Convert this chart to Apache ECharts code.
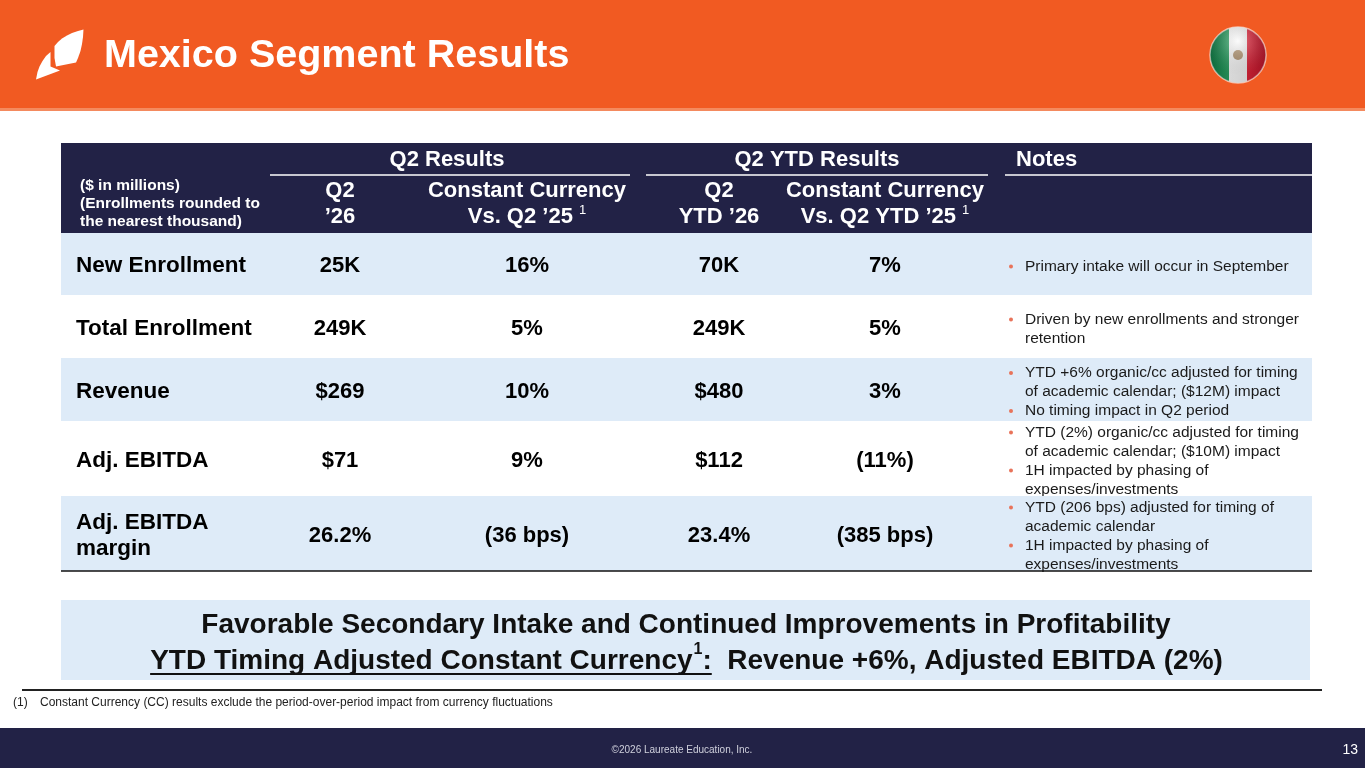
<!DOCTYPE html>
<html>
<head>
<meta charset="utf-8">
<title>Mexico Segment Results</title>
<script src="https://cdn.jsdelivr.net/npm/echarts@6/dist/echarts.min.js"></script>
<style>
    html, body { margin: 0; padding: 0; background: #fff; }
    #main { width: 1365px; height: 768px; }
</style>
</head>
<body>
<div id="main"></div>
<script>
// table content
var rowLabels = ['New Enrollment', 'Total Enrollment', 'Revenue', 'Adj. EBITDA', 'Adj. EBITDA\nmargin'];
var q2Values = ['25K', '249K', '$269', '$71', '26.2%'];
var q2CcGrowth = ['16%', '5%', '10%', '9%', '(36 bps)'];
var ytdValues = ['70K', '249K', '$480', '$112', '23.4%'];
var ytdCcGrowth = ['7%', '5%', '3%', '(11%)', '(385 bps)'];
var rowNotes = [
    [['Primary intake will occur in September']],
    [['Driven by new enrollments and stronger', 'retention']],
    [['YTD +6% organic/cc adjusted for timing', 'of academic calendar; ($12M) impact'], ['No timing impact in Q2 period']],
    [['YTD (2%) organic/cc adjusted for timing', 'of academic calendar; ($10M) impact'], ['1H impacted by phasing of', 'expenses/investments']],
    [['YTD (206 bps) adjusted for timing of', 'academic calendar'], ['1H impacted by phasing of', 'expenses/investments']]
];
var groupHeaders = ['Q2 Results', 'Q2 YTD Results', 'Notes'];
var colHeaders = [['Q2', '\u201926'], ['Constant Currency', 'Vs. Q2 \u201925'], ['Q2', 'YTD \u201926'], ['Constant Currency', 'Vs. Q2 YTD \u201925']];
var colFootnote = [false, true, false, true];
var unitNote = '($ in millions)\n(Enrollments rounded to\nthe nearest thousand)';
var boxLine1 = 'Favorable Secondary Intake and Continued Improvements in Profitability';
var boxLine2a = 'YTD Timing Adjusted Constant Currency';
var boxLine2b = ':';
var boxLine2c = '  Revenue +6%, Adjusted EBITDA (2%)';
var footnote = 'Constant Currency (CC) results exclude the period-over-period impact from currency fluctuations';

// layout
var FONT = '"Liberation Sans", Arial, Helvetica, sans-serif';
var NAVY = '#222246';
var ORANGE = '#F15A22';
var LIGHT = '#DEEBF8';
var tableLeft = 61, tableRight = 1312;
var headTop = 143, headBottom = 233;
var rowHeights = [62, 63, 63, 75, 75];
var colCenters = [340, 527, 719, 885];
var groupCenters = [447, 817, 1016];
var groupLines = [[270, 630], [646, 988], [1005, 1312]];
var noteX = 1025, bulletX = 1009;

var measureCtx = document.createElement('canvas').getContext('2d');
function textWidth(str, font) {
    measureCtx.font = font;
    return measureCtx.measureText(str).width;
}

function text(x, y, str, size, opts) {
    opts = opts || {};
    return {
        type: 'text',
        x: x,
        y: y,
        silent: true,
        style: {
            text: str,
            fill: opts.color || '#000',
            fontFamily: FONT,
            fontSize: size,
            fontWeight: opts.bold ? 'bold' : 'normal',
            textAlign: opts.align || 'center',
            textVerticalAlign: opts.valign || 'middle',
            lineHeight: opts.lineHeight
        }
    };
}

function line(x1, y1, x2, y2, color, w) {
    return { type: 'line', silent: true, shape: { x1: x1, y1: y1, x2: x2, y2: y2 }, style: { stroke: color, lineWidth: w } };
}

var g = [];

// title bar
g.push({ type: 'rect', shape: { x: 0, y: 0, width: 1365, height: 110 }, style: { fill: ORANGE } });
g.push({ type: 'rect', shape: { x: 0, y: 108, width: 1365, height: 3 }, style: { fill: '#F48A5E' } });
g.push({
    type: 'polygon',
    shape: { points: [[54.5, 46], [58, 42], [62, 38.5], [67, 35.5], [72, 33], [78, 31], [83.5, 29.5], [83, 37], [82, 44], [80.5, 51], [78, 58], [76, 62.5], [66, 64.5], [56, 66.5], [54.5, 58]] },
    style: { fill: '#fff' }
});
g.push({
    type: 'polygon',
    shape: { points: [[50.5, 52], [46, 56], [42.5, 61], [39.5, 66.5], [37.5, 72], [36, 79.5], [48, 75], [60, 70.5], [50.5, 66.5]] },
    style: { fill: '#fff' }
});
g.push(text(104, 56, 'Mexico Segment Results', 39.5, { bold: true, color: '#fff', align: 'left' }));

// flag
g.push({
    type: 'circle', shape: { cx: 1238, cy: 55, r: 28 },
    style: {
        fill: new echarts.graphic.LinearGradient(0, 0, 1, 0, [
            { offset: 0, color: '#0E7A45' }, { offset: 0.34, color: '#2BA263' },
            { offset: 0.34, color: '#ffffff' }, { offset: 0.66, color: '#f4f4f4' },
            { offset: 0.66, color: '#E0253A' }, { offset: 1, color: '#B8142A' }
        ]),
        stroke: 'rgba(255,255,255,0.6)', lineWidth: 1.5
    }
});
g.push({ type: 'circle', shape: { cx: 1238, cy: 55, r: 5 }, style: { fill: '#A07A4E', opacity: 0.8 } });
g.push({
    type: 'circle', shape: { cx: 1238, cy: 55, r: 28 },
    style: {
        fill: new echarts.graphic.RadialGradient(0.5, 0.25, 0.6, [
            { offset: 0, color: 'rgba(255,255,255,0.35)' }, { offset: 1, color: 'rgba(0,0,0,0.15)' }
        ])
    }
});

// table header
g.push({ type: 'rect', shape: { x: tableLeft, y: headTop, width: tableRight - tableLeft, height: headBottom - headTop }, style: { fill: NAVY } });
g.push(text(80, 204, unitNote, 15.5, { bold: true, color: '#fff', align: 'left', lineHeight: 18 }));
for (var i = 0; i < groupHeaders.length; i++) {
    g.push(text(groupCenters[i], 160, groupHeaders[i], 22, { bold: true, color: '#fff', align: i == 2 ? 'left' : 'center' }));
    g.push(line(groupLines[i][0], 175, groupLines[i][1], 175, '#fff', 1.5));
}
for (var i = 0; i < colHeaders.length; i++) {
    var rich = '{h|' + colHeaders[i][0] + '}\n{h|' + colHeaders[i][1] + (colFootnote[i] ? ' ' : '') + '}' + (colFootnote[i] ? '{s|1}' : '');
    g.push({
        type: 'text', x: colCenters[i], y: 204, silent: true,
        style: {
            text: rich, fill: '#fff', textAlign: 'center', textVerticalAlign: 'middle',
            rich: {
                h: { fontFamily: FONT, fontSize: 22, fontWeight: 'bold', color: '#fff', lineHeight: 26 },
                s: { fontFamily: FONT, fontSize: 13, color: '#fff', lineHeight: 26, verticalAlign: 'top', padding: [0, 0, 8, 0] }
            }
        }
    });
}

// table rows
var y = headBottom;
for (var r = 0; r < rowLabels.length; r++) {
    var h = rowHeights[r];
    var cy = y + h / 2 + 2;
    if (r % 2 == 0) {
        g.push({ type: 'rect', shape: { x: tableLeft, y: y, width: tableRight - tableLeft, height: h }, style: { fill: LIGHT } });
    }
    g.push(text(76, cy, rowLabels[r], 22.5, { bold: true, align: 'left', lineHeight: 26 }));
    var vals = [q2Values[r], q2CcGrowth[r], ytdValues[r], ytdCcGrowth[r]];
    for (var c = 0; c < vals.length; c++) {
        g.push(text(colCenters[c], cy, vals[c], 22, { bold: true }));
    }
    // notes, one bullet per item
    var nLines = 0;
    rowNotes[r].forEach(function (n) { nLines += n.length; });
    var lh = 19;
    var ly = cy + 0.5 - (nLines - 1) * lh / 2;
    rowNotes[r].forEach(function (n) {
        g.push({ type: 'circle', shape: { cx: bulletX + 2, cy: ly, r: 2 }, style: { fill: '#E8735A' } });
        n.forEach(function (s) {
            g.push(text(noteX, ly, s, 15.5, { align: 'left', color: '#1a1a1a' }));
            ly += lh;
        });
    });
    y += h;
}
g.push(line(tableLeft, y, tableRight, y, '#111', 1.5));

// takeaway box
g.push({ type: 'rect', shape: { x: 61, y: 600, width: 1249, height: 80 }, style: { fill: LIGHT } });
g.push(text(686, 625, boxLine1, 28, { bold: true, color: '#111' }));
var bf = 'bold 28px ' + FONT;
var sf = 'bold 16px ' + FONT;
var wA = textWidth(boxLine2a, bf), wS = textWidth('1', sf), wB = textWidth(boxLine2b, bf), wC = textWidth(boxLine2c, bf);
var x0 = 686 - (wA + wS + wB + wC) / 2;
g.push(text(x0, 661, boxLine2a, 28, { bold: true, color: '#111', align: 'left' }));
g.push(text(x0 + wA + 1, 650, '1', 16, { bold: true, color: '#111', align: 'left' }));
g.push(text(x0 + wA + wS + 1, 661, boxLine2b + boxLine2c, 28, { bold: true, color: '#111', align: 'left' }));
g.push(line(x0, 674, x0 + wA + wS + wB + 1, 674, '#111', 2));

// footnote
g.push(line(22, 690, 1322, 690, '#222', 2));
g.push(text(13, 703, '(1)', 12, { align: 'left', color: '#222' }));
g.push(text(40, 703, footnote, 12, { align: 'left', color: '#222' }));

// footer
g.push({ type: 'rect', shape: { x: 0, y: 728, width: 1365, height: 40 }, style: { fill: NAVY } });
g.push(text(682, 750, '\u00A92026 Laureate Education, Inc.', 10, { color: '#cfd0dc' }));
g.push(text(1358, 750, '13', 14, { color: '#fff', align: 'right' }));

var chart = echarts.init(document.getElementById('main'), null, { renderer: 'canvas' });
chart.setOption({
    backgroundColor: '#fff',
    animation: false,
    graphic: { elements: g }
});
</script>
</body>
</html>
